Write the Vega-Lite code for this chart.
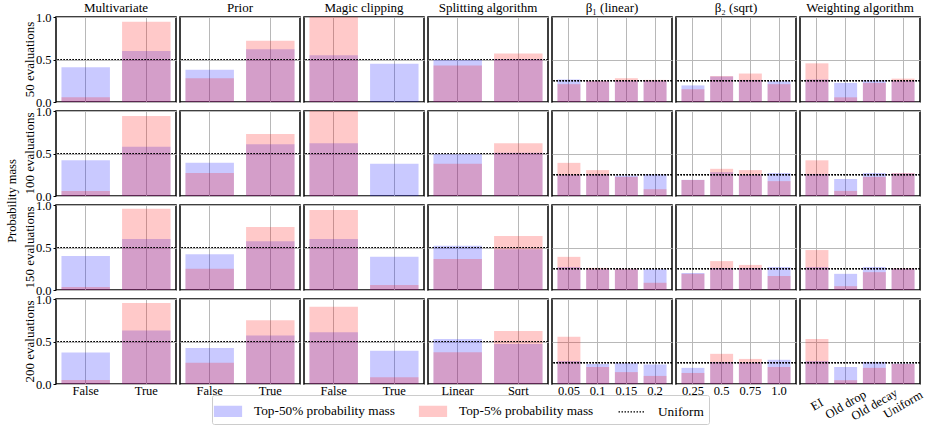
{
"$schema":"https://vega.github.io/schema/vega-lite/v6.json",
"padding":{"left":5,"top":2,"right":5,"bottom":2},
"background":"white",
"data":{"values":[
{"param":"Multivariate","evals":"50 evaluations","option":"False","top50":0.41,"top5":0.055,"uniform":0.5},
{"param":"Multivariate","evals":"50 evaluations","option":"True","top50":0.6,"top5":0.945,"uniform":0.5},
{"param":"Multivariate","evals":"100 evaluations","option":"False","top50":0.42,"top5":0.06,"uniform":0.5},
{"param":"Multivariate","evals":"100 evaluations","option":"True","top50":0.58,"top5":0.94,"uniform":0.5},
{"param":"Multivariate","evals":"150 evaluations","option":"False","top50":0.4,"top5":0.035,"uniform":0.5},
{"param":"Multivariate","evals":"150 evaluations","option":"True","top50":0.6,"top5":0.955,"uniform":0.5},
{"param":"Multivariate","evals":"200 evaluations","option":"False","top50":0.37,"top5":0.047,"uniform":0.5},
{"param":"Multivariate","evals":"200 evaluations","option":"True","top50":0.63,"top5":0.953,"uniform":0.5},
{"param":"Prior","evals":"50 evaluations","option":"False","top50":0.38,"top5":0.28,"uniform":0.5},
{"param":"Prior","evals":"50 evaluations","option":"True","top50":0.62,"top5":0.72,"uniform":0.5},
{"param":"Prior","evals":"100 evaluations","option":"False","top50":0.39,"top5":0.27,"uniform":0.5},
{"param":"Prior","evals":"100 evaluations","option":"True","top50":0.61,"top5":0.73,"uniform":0.5},
{"param":"Prior","evals":"150 evaluations","option":"False","top50":0.42,"top5":0.25,"uniform":0.5},
{"param":"Prior","evals":"150 evaluations","option":"True","top50":0.575,"top5":0.74,"uniform":0.5},
{"param":"Prior","evals":"200 evaluations","option":"False","top50":0.425,"top5":0.25,"uniform":0.5},
{"param":"Prior","evals":"200 evaluations","option":"True","top50":0.57,"top5":0.75,"uniform":0.5},
{"param":"Magic clipping","evals":"50 evaluations","option":"False","top50":0.55,"top5":1.0,"uniform":0.5},
{"param":"Magic clipping","evals":"50 evaluations","option":"True","top50":0.45,"top5":0.0,"uniform":0.5},
{"param":"Magic clipping","evals":"100 evaluations","option":"False","top50":0.62,"top5":1.0,"uniform":0.5},
{"param":"Magic clipping","evals":"100 evaluations","option":"True","top50":0.38,"top5":0.0,"uniform":0.5},
{"param":"Magic clipping","evals":"150 evaluations","option":"False","top50":0.6,"top5":0.94,"uniform":0.5},
{"param":"Magic clipping","evals":"150 evaluations","option":"True","top50":0.39,"top5":0.06,"uniform":0.5},
{"param":"Magic clipping","evals":"200 evaluations","option":"False","top50":0.61,"top5":0.91,"uniform":0.5},
{"param":"Magic clipping","evals":"200 evaluations","option":"True","top50":0.39,"top5":0.08,"uniform":0.5},
{"param":"Splitting algorithm","evals":"50 evaluations","option":"Linear","top50":0.495,"top5":0.43,"uniform":0.5},
{"param":"Splitting algorithm","evals":"50 evaluations","option":"Sqrt","top50":0.505,"top5":0.57,"uniform":0.5},
{"param":"Splitting algorithm","evals":"100 evaluations","option":"Linear","top50":0.49,"top5":0.38,"uniform":0.5},
{"param":"Splitting algorithm","evals":"100 evaluations","option":"Sqrt","top50":0.51,"top5":0.62,"uniform":0.5},
{"param":"Splitting algorithm","evals":"150 evaluations","option":"Linear","top50":0.52,"top5":0.365,"uniform":0.5},
{"param":"Splitting algorithm","evals":"150 evaluations","option":"Sqrt","top50":0.48,"top5":0.635,"uniform":0.5},
{"param":"Splitting algorithm","evals":"200 evaluations","option":"Linear","top50":0.53,"top5":0.375,"uniform":0.5},
{"param":"Splitting algorithm","evals":"200 evaluations","option":"Sqrt","top50":0.47,"top5":0.625,"uniform":0.5},
{"param":"β₁ (linear)","evals":"50 evaluations","option":"0.05","top50":0.265,"top5":0.21,"uniform":0.25},
{"param":"β₁ (linear)","evals":"50 evaluations","option":"0.1","top50":0.245,"top5":0.25,"uniform":0.25},
{"param":"β₁ (linear)","evals":"50 evaluations","option":"0.15","top50":0.25,"top5":0.28,"uniform":0.25},
{"param":"β₁ (linear)","evals":"50 evaluations","option":"0.2","top50":0.25,"top5":0.26,"uniform":0.25},
{"param":"β₁ (linear)","evals":"100 evaluations","option":"0.05","top50":0.25,"top5":0.39,"uniform":0.25},
{"param":"β₁ (linear)","evals":"100 evaluations","option":"0.1","top50":0.255,"top5":0.305,"uniform":0.25},
{"param":"β₁ (linear)","evals":"100 evaluations","option":"0.15","top50":0.24,"top5":0.225,"uniform":0.25},
{"param":"β₁ (linear)","evals":"100 evaluations","option":"0.2","top50":0.255,"top5":0.08,"uniform":0.25},
{"param":"β₁ (linear)","evals":"150 evaluations","option":"0.05","top50":0.27,"top5":0.39,"uniform":0.25},
{"param":"β₁ (linear)","evals":"150 evaluations","option":"0.1","top50":0.245,"top5":0.26,"uniform":0.25},
{"param":"β₁ (linear)","evals":"150 evaluations","option":"0.15","top50":0.245,"top5":0.25,"uniform":0.25},
{"param":"β₁ (linear)","evals":"150 evaluations","option":"0.2","top50":0.245,"top5":0.085,"uniform":0.25},
{"param":"β₁ (linear)","evals":"200 evaluations","option":"0.05","top50":0.27,"top5":0.555,"uniform":0.25},
{"param":"β₁ (linear)","evals":"200 evaluations","option":"0.1","top50":0.235,"top5":0.2,"uniform":0.25},
{"param":"β₁ (linear)","evals":"200 evaluations","option":"0.15","top50":0.245,"top5":0.14,"uniform":0.25},
{"param":"β₁ (linear)","evals":"200 evaluations","option":"0.2","top50":0.23,"top5":0.095,"uniform":0.25},
{"param":"β₂ (sqrt)","evals":"50 evaluations","option":"0.25","top50":0.195,"top5":0.15,"uniform":0.25},
{"param":"β₂ (sqrt)","evals":"50 evaluations","option":"0.5","top50":0.3,"top5":0.305,"uniform":0.25},
{"param":"β₂ (sqrt)","evals":"50 evaluations","option":"0.75","top50":0.26,"top5":0.335,"uniform":0.25},
{"param":"β₂ (sqrt)","evals":"50 evaluations","option":"1.0","top50":0.245,"top5":0.21,"uniform":0.25},
{"param":"β₂ (sqrt)","evals":"100 evaluations","option":"0.25","top50":0.19,"top5":0.188,"uniform":0.25},
{"param":"β₂ (sqrt)","evals":"100 evaluations","option":"0.5","top50":0.28,"top5":0.32,"uniform":0.25},
{"param":"β₂ (sqrt)","evals":"100 evaluations","option":"0.75","top50":0.25,"top5":0.305,"uniform":0.25},
{"param":"β₂ (sqrt)","evals":"100 evaluations","option":"1.0","top50":0.27,"top5":0.175,"uniform":0.25},
{"param":"β₂ (sqrt)","evals":"150 evaluations","option":"0.25","top50":0.2,"top5":0.19,"uniform":0.25},
{"param":"β₂ (sqrt)","evals":"150 evaluations","option":"0.5","top50":0.26,"top5":0.34,"uniform":0.25},
{"param":"β₂ (sqrt)","evals":"150 evaluations","option":"0.75","top50":0.26,"top5":0.295,"uniform":0.25},
{"param":"β₂ (sqrt)","evals":"150 evaluations","option":"1.0","top50":0.27,"top5":0.165,"uniform":0.25},
{"param":"β₂ (sqrt)","evals":"200 evaluations","option":"0.25","top50":0.19,"top5":0.13,"uniform":0.25},
{"param":"β₂ (sqrt)","evals":"200 evaluations","option":"0.5","top50":0.26,"top5":0.355,"uniform":0.25},
{"param":"β₂ (sqrt)","evals":"200 evaluations","option":"0.75","top50":0.25,"top5":0.295,"uniform":0.25},
{"param":"β₂ (sqrt)","evals":"200 evaluations","option":"1.0","top50":0.285,"top5":0.2,"uniform":0.25},
{"param":"Weighting algorithm","evals":"50 evaluations","option":"EI","top50":0.265,"top5":0.455,"uniform":0.25},
{"param":"Weighting algorithm","evals":"50 evaluations","option":"Old drop","top50":0.225,"top5":0.055,"uniform":0.25},
{"param":"Weighting algorithm","evals":"50 evaluations","option":"Old decay","top50":0.255,"top5":0.225,"uniform":0.25},
{"param":"Weighting algorithm","evals":"50 evaluations","option":"Uniform","top50":0.25,"top5":0.275,"uniform":0.25},
{"param":"Weighting algorithm","evals":"100 evaluations","option":"EI","top50":0.26,"top5":0.42,"uniform":0.25},
{"param":"Weighting algorithm","evals":"100 evaluations","option":"Old drop","top50":0.2,"top5":0.06,"uniform":0.25},
{"param":"Weighting algorithm","evals":"100 evaluations","option":"Old decay","top50":0.27,"top5":0.225,"uniform":0.25},
{"param":"Weighting algorithm","evals":"100 evaluations","option":"Uniform","top50":0.265,"top5":0.27,"uniform":0.25},
{"param":"Weighting algorithm","evals":"150 evaluations","option":"EI","top50":0.27,"top5":0.47,"uniform":0.25},
{"param":"Weighting algorithm","evals":"150 evaluations","option":"Old drop","top50":0.19,"top5":0.045,"uniform":0.25},
{"param":"Weighting algorithm","evals":"150 evaluations","option":"Old decay","top50":0.27,"top5":0.21,"uniform":0.25},
{"param":"Weighting algorithm","evals":"150 evaluations","option":"Uniform","top50":0.25,"top5":0.255,"uniform":0.25},
{"param":"Weighting algorithm","evals":"200 evaluations","option":"EI","top50":0.27,"top5":0.53,"uniform":0.25},
{"param":"Weighting algorithm","evals":"200 evaluations","option":"Old drop","top50":0.2,"top5":0.045,"uniform":0.25},
{"param":"Weighting algorithm","evals":"200 evaluations","option":"Old decay","top50":0.26,"top5":0.19,"uniform":0.25},
{"param":"Weighting algorithm","evals":"200 evaluations","option":"Uniform","top50":0.24,"top5":0.235,"uniform":0.25}
]},
"spacing":0,
"hconcat":[
{"transform":[{"filter":"datum.param === 'Multivariate'"}],
 "bounds":"flush",
 "facet":{"column":{"field":"param","type":"nominal","title":null},
  "row":{"field":"evals","type":"nominal","sort":["50 evaluations","100 evaluations","150 evaluations","200 evaluations"],"title":"Probability mass","header":{"labelAngle":-90,"labelPadding":-8,"titlePadding":-4}}},
 "spacing":{"row":9},
 "spec":{"width":120,"height":85,"layer":[
  {"mark":{"type":"bar","opacity":0.21},"encoding":{
    "x":{"field":"option","type":"nominal","sort":null,"scale":{"paddingInner":0.2,"paddingOuter":0.09},"axis":{"title":null,"labelAngle":0,"grid":true,"bandPosition":0.5,"ticks":false,"domain":false,"labelPadding":0}},
    "y":{"field":"top50","type":"quantitative","scale":{"domain":[0,1],"nice":false},"axis":{"values":[0,0.5,1],"format":".1f","title":null,"grid":true,"ticks":true,"tickSize":3,"tickColor":"#000000","domain":false,"labelPadding":2,"minExtent":0}},
    "color":{"datum":"Top-50% probability mass","scale":{"domain":["Top-50% probability mass","Top-5% probability mass","Uniform"],"range":["#0000ff","#ff0000","#000000"]},
     "legend":{"orient":"none","legendX":156,"legendY":378,"direction":"horizontal","title":null,"symbolSize":400,
      "encoding":{"symbols":{
       "shape":{"condition":{"test":"datum.label === 'Uniform'","value":"M-1.35,0H1.35"},"value":"M-1.35,-0.5H1.35V0.5H-1.35Z"},
       "fill":{"condition":[{"test":"datum.label === 'Uniform'","value":"transparent"},{"test":"datum.label === 'Top-5% probability mass'","value":"#ff0000"}],"value":"#0000ff"},
       "stroke":{"condition":{"test":"datum.label === 'Uniform'","value":"#000000"},"value":"transparent"},
       "opacity":{"condition":{"test":"datum.label === 'Uniform'","value":1},"value":0.21},
       "strokeDash":{"condition":{"test":"datum.label === 'Uniform'","value":[1.5,1.5]},"value":[]},
       "strokeWidth":{"value":1.2}}}}}}},
  {"mark":{"type":"bar","opacity":0.21},"encoding":{
    "x":{"field":"option","type":"nominal","sort":null},
    "y":{"field":"top5","type":"quantitative","title":null},
    "color":{"datum":"Top-5% probability mass"}}},
  {"mark":{"type":"rule","strokeDash":[1.5,1.5],"strokeWidth":1.2},"encoding":{
    "y":{"field":"uniform","type":"quantitative","title":null},
    "color":{"datum":"Uniform"}}}
 ]}},
{"transform":[{"filter":"datum.param === 'Prior'"}],
 "bounds":"flush",
 "facet":{"column":{"field":"param","type":"nominal","title":null},
  "row":{"field":"evals","type":"nominal","sort":["50 evaluations","100 evaluations","150 evaluations","200 evaluations"],"title":null,"header":{"labels":false,"labelPadding":0}}},
 "spacing":{"row":9},
 "spec":{"width":120,"height":85,"layer":[
  {"mark":{"type":"bar","opacity":0.21},"encoding":{
    "x":{"field":"option","type":"nominal","sort":null,"scale":{"paddingInner":0.2,"paddingOuter":0.09},"axis":{"title":null,"labelAngle":0,"grid":true,"bandPosition":0.5,"ticks":false,"domain":false,"labelPadding":0}},
    "y":{"field":"top50","type":"quantitative","scale":{"domain":[0,1],"nice":false},"axis":{"values":[0,0.5,1],"labels":false,"title":null,"grid":true,"ticks":false,"domain":false,"minExtent":0}},
    "color":{"datum":"Top-50% probability mass"}}},
  {"mark":{"type":"bar","opacity":0.21},"encoding":{"x":{"field":"option","type":"nominal","sort":null},"y":{"field":"top5","type":"quantitative","title":null},"color":{"datum":"Top-5% probability mass"}}},
  {"mark":{"type":"rule","strokeDash":[1.5,1.5],"strokeWidth":1.2},"encoding":{"y":{"field":"uniform","type":"quantitative","title":null},"color":{"datum":"Uniform"}}}
 ]}},
{"transform":[{"filter":"datum.param === 'Magic clipping'"}],
 "bounds":"flush",
 "facet":{"column":{"field":"param","type":"nominal","title":null},
  "row":{"field":"evals","type":"nominal","sort":["50 evaluations","100 evaluations","150 evaluations","200 evaluations"],"title":null,"header":{"labels":false,"labelPadding":0}}},
 "spacing":{"row":9},
 "spec":{"width":120,"height":85,"layer":[
  {"mark":{"type":"bar","opacity":0.21},"encoding":{
    "x":{"field":"option","type":"nominal","sort":null,"scale":{"paddingInner":0.2,"paddingOuter":0.09},"axis":{"title":null,"labelAngle":0,"grid":true,"bandPosition":0.5,"ticks":false,"domain":false,"labelPadding":0}},
    "y":{"field":"top50","type":"quantitative","scale":{"domain":[0,1],"nice":false},"axis":{"values":[0,0.5,1],"labels":false,"title":null,"grid":true,"ticks":false,"domain":false,"minExtent":0}},
    "color":{"datum":"Top-50% probability mass"}}},
  {"mark":{"type":"bar","opacity":0.21},"encoding":{"x":{"field":"option","type":"nominal","sort":null},"y":{"field":"top5","type":"quantitative","title":null},"color":{"datum":"Top-5% probability mass"}}},
  {"mark":{"type":"rule","strokeDash":[1.5,1.5],"strokeWidth":1.2},"encoding":{"y":{"field":"uniform","type":"quantitative","title":null},"color":{"datum":"Uniform"}}}
 ]}},
{"transform":[{"filter":"datum.param === 'Splitting algorithm'"}],
 "bounds":"flush",
 "facet":{"column":{"field":"param","type":"nominal","title":null},
  "row":{"field":"evals","type":"nominal","sort":["50 evaluations","100 evaluations","150 evaluations","200 evaluations"],"title":null,"header":{"labels":false,"labelPadding":0}}},
 "spacing":{"row":9},
 "spec":{"width":120,"height":85,"layer":[
  {"mark":{"type":"bar","opacity":0.21},"encoding":{
    "x":{"field":"option","type":"nominal","sort":null,"scale":{"paddingInner":0.2,"paddingOuter":0.09},"axis":{"title":null,"labelAngle":0,"grid":true,"bandPosition":0.5,"ticks":false,"domain":false,"labelPadding":0}},
    "y":{"field":"top50","type":"quantitative","scale":{"domain":[0,1],"nice":false},"axis":{"values":[0,0.5,1],"labels":false,"title":null,"grid":true,"ticks":false,"domain":false,"minExtent":0}},
    "color":{"datum":"Top-50% probability mass"}}},
  {"mark":{"type":"bar","opacity":0.21},"encoding":{"x":{"field":"option","type":"nominal","sort":null},"y":{"field":"top5","type":"quantitative","title":null},"color":{"datum":"Top-5% probability mass"}}},
  {"mark":{"type":"rule","strokeDash":[1.5,1.5],"strokeWidth":1.2},"encoding":{"y":{"field":"uniform","type":"quantitative","title":null},"color":{"datum":"Uniform"}}}
 ]}},
{"transform":[{"filter":"datum.param === 'β₁ (linear)'"}],
 "bounds":"flush",
 "facet":{"column":{"field":"param","type":"nominal","title":null},
  "row":{"field":"evals","type":"nominal","sort":["50 evaluations","100 evaluations","150 evaluations","200 evaluations"],"title":null,"header":{"labels":false,"labelPadding":0}}},
 "spacing":{"row":9},
 "spec":{"width":120,"height":85,"layer":[
  {"mark":{"type":"bar","opacity":0.21},"encoding":{
    "x":{"field":"option","type":"nominal","sort":null,"scale":{"paddingInner":0.2,"paddingOuter":0.19},"axis":{"title":null,"labelAngle":0,"grid":true,"bandPosition":0.5,"ticks":false,"domain":false,"labelPadding":0}},
    "y":{"field":"top50","type":"quantitative","scale":{"domain":[0,1],"nice":false},"axis":{"values":[0,0.5,1],"labels":false,"title":null,"grid":true,"ticks":false,"domain":false,"minExtent":0}},
    "color":{"datum":"Top-50% probability mass"}}},
  {"mark":{"type":"bar","opacity":0.21},"encoding":{"x":{"field":"option","type":"nominal","sort":null},"y":{"field":"top5","type":"quantitative","title":null},"color":{"datum":"Top-5% probability mass"}}},
  {"mark":{"type":"rule","strokeDash":[1.5,1.5],"strokeWidth":1.2},"encoding":{"y":{"field":"uniform","type":"quantitative","title":null},"color":{"datum":"Uniform"}}}
 ]}},
{"transform":[{"filter":"datum.param === 'β₂ (sqrt)'"}],
 "bounds":"flush",
 "facet":{"column":{"field":"param","type":"nominal","title":null},
  "row":{"field":"evals","type":"nominal","sort":["50 evaluations","100 evaluations","150 evaluations","200 evaluations"],"title":null,"header":{"labels":false,"labelPadding":0}}},
 "spacing":{"row":9},
 "spec":{"width":120,"height":85,"layer":[
  {"mark":{"type":"bar","opacity":0.21},"encoding":{
    "x":{"field":"option","type":"nominal","sort":null,"scale":{"paddingInner":0.2,"paddingOuter":0.19},"axis":{"title":null,"labelAngle":0,"grid":true,"bandPosition":0.5,"ticks":false,"domain":false,"labelPadding":0}},
    "y":{"field":"top50","type":"quantitative","scale":{"domain":[0,1],"nice":false},"axis":{"values":[0,0.5,1],"labels":false,"title":null,"grid":true,"ticks":false,"domain":false,"minExtent":0}},
    "color":{"datum":"Top-50% probability mass"}}},
  {"mark":{"type":"bar","opacity":0.21},"encoding":{"x":{"field":"option","type":"nominal","sort":null},"y":{"field":"top5","type":"quantitative","title":null},"color":{"datum":"Top-5% probability mass"}}},
  {"mark":{"type":"rule","strokeDash":[1.5,1.5],"strokeWidth":1.2},"encoding":{"y":{"field":"uniform","type":"quantitative","title":null},"color":{"datum":"Uniform"}}}
 ]}},
{"transform":[{"filter":"datum.param === 'Weighting algorithm'"}],
 "bounds":"flush",
 "facet":{"column":{"field":"param","type":"nominal","title":null},
  "row":{"field":"evals","type":"nominal","sort":["50 evaluations","100 evaluations","150 evaluations","200 evaluations"],"title":null,"header":{"labels":false,"labelPadding":0}}},
 "spacing":{"row":9},
 "spec":{"width":120,"height":85,"layer":[
  {"mark":{"type":"bar","opacity":0.21},"encoding":{
    "x":{"field":"option","type":"nominal","sort":null,"scale":{"paddingInner":0.2,"paddingOuter":0.19},"axis":{"title":null,"labelAngle":-30,"labelAlign":"center","labelBaseline":"middle","grid":true,"bandPosition":0.5,"ticks":false,"domain":false,"labelPadding":20}},
    "y":{"field":"top50","type":"quantitative","scale":{"domain":[0,1],"nice":false},"axis":{"values":[0,0.5,1],"labels":false,"title":null,"grid":true,"ticks":false,"domain":false,"minExtent":0}},
    "color":{"datum":"Top-50% probability mass"}}},
  {"mark":{"type":"bar","opacity":0.21},"encoding":{"x":{"field":"option","type":"nominal","sort":null},"y":{"field":"top5","type":"quantitative","title":null},"color":{"datum":"Top-5% probability mass"}}},
  {"mark":{"type":"rule","strokeDash":[1.5,1.5],"strokeWidth":1.2},"encoding":{"y":{"field":"uniform","type":"quantitative","title":null},"color":{"datum":"Uniform"}}}
 ]}}
],
"config":{
 "font":"Liberation Serif",
 "view":{"stroke":"#000000","strokeWidth":1.5},
 "axis":{"labelFont":"Liberation Serif","labelFontSize":12.5,"labelColor":"#000000","gridColor":"#b8b8b8","gridWidth":1,"gridOpacity":1,"minExtent":0},
 "axisY":{"minExtent":0},
 "header":{"labelFont":"Liberation Serif","titleFont":"Liberation Serif","labelFontSize":13,"titleFontSize":12.5,"labelColor":"#000000","titleColor":"#000000","titleFontWeight":"normal","labelPadding":2},
 "legend":{"labelFont":"Liberation Serif","labelFontSize":13.3,"labelColor":"#000000","strokeColor":"#cccccc","fillColor":"white","padding":5,"cornerRadius":2,"columnPadding":22,"labelOffset":15}
}
}
